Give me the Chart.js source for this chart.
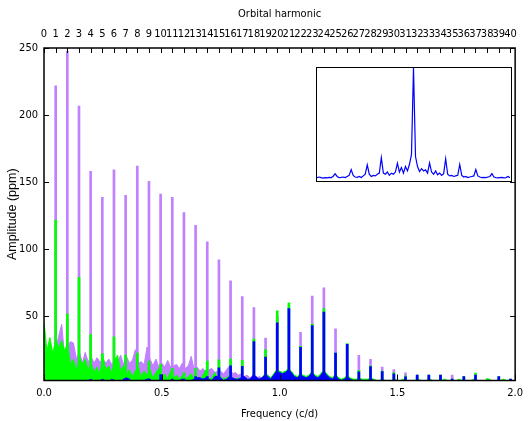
<!DOCTYPE html>
<html>
<head>
<meta charset="utf-8">
<script src="https://cdn.jsdelivr.net/npm/chart.js@4.4.0/dist/chart.umd.min.js"></script>
<style>
    html, body { margin: 0; padding: 0; background: #fff; }
    #wrap { position: relative; width: 529px; height: 421px; }
    #insetBox {
        position: absolute; left: 316px; top: 67px;
        width: 196px; height: 115px;
        border: 1.5px solid #000; box-sizing: border-box; background: #fff;
    }
    #insetChart { position: absolute; left: 0; top: 0; }
</style>
</head>
<body>
<div id="wrap">
    <canvas id="mainChart" width="529" height="421"></canvas>
    <div id="insetBox"><canvas id="insetChart" width="193" height="112"></canvas></div>
</div>
<script>
// tick values of the three axes
const freqTicks = [0, 0.5, 1.0, 1.5, 2.0];
const ampTicks = [50, 100, 150, 200, 250];
const harmonicTicks = [0, 1, 2, 3, 4, 5, 6, 7, 8, 9, 10, 11, 12, 13, 14, 15, 16, 17, 18, 19, 20,
    21, 22, 23, 24, 25, 26, 27, 28, 29, 30, 31, 32, 33, 34, 35, 36, 37, 38, 39, 40];

// orbital harmonics carrying a peak
const harmonics = [1, 2, 3, 4, 5, 6, 7, 8, 9, 10, 11, 12, 13, 14, 15, 16, 17, 18, 19, 20,
    21, 22, 23, 24, 25, 26, 27, 28, 29, 30, 31, 32, 33, 34, 35, 36, 37, 38, 39, 40];

// peak amplitudes (ppm) at each harmonic
const purplePeaks = [221.7, 247.5, 206.7, 158, 138.7, 159.2, 140.2, 162, 150.5, 141,
    138.7, 127.2, 117.7, 105.5, 92, 76.3, 64.5, 56.3, 33.6, 50,
    56, 38, 65, 71.2, 40.5, 28, 20.7, 17.7, 12, 10.2,
    7.8, 5, 4, 4, 6, 3, 4, 2, 3, 2];
const greenPeaks = [121.7, 51.7, 79, 36.2, 22, 34.6, 21, 22.4, 16.5, 14,
    11, 8, 11, 16.5, 17.5, 18, 17, 33, 25, 54,
    60, 27.5, 44, 55.7, 22.5, 29.5, 9.5, 13, 9, 8,
    5.5, 6, 6, 6, 3, 5, 7.5, 3.5, 5, 3];
const bluePeaks = [1, 1, 1, 1, 2, 2, 2, 2, 3, 6.5,
    3, 3, 5, 5, 11.5, 13, 12.5, 31, 19.5, 45,
    55.7, 26.7, 43, 53, 22.4, 29, 8.5, 12.4, 8.6, 7,
    4.8, 6, 6, 6, 3, 5, 6, 2, 5, 3];

// noise floor between the peaks, one value every 0.0125 c/d from 0 to 2
const FREQ_STEP = 0.0125;
const purpleFloor = [28, 14, 22, 12, 26, 35, 44, 20, 28, 31,
    30, 18, 24, 15, 23, 16, 20, 15, 19, 16,
    18, 15, 18, 14, 17, 15, 21, 14, 20, 15,
    17, 25, 15, 16, 14, 27, 18, 13, 18, 12,
    15, 12, 17, 12, 13, 14, 11, 15, 11, 13,
    20, 10, 12, 9, 11, 8, 10, 11, 8, 9,
    9, 7, 10, 13, 7, 8, 6, 7, 5, 6,
    4, 5, 3, 5, 4, 5, 6, 4, 3, 4,
    5, 3, 4, 3, 4, 3, 3, 4, 3, 2,
    3, 3, 4, 2, 3, 4, 3, 2, 3, 3,
    2, 2, 3, 2, 2, 2, 2, 2, 1.5, 2,
    1.5, 2, 1.5, 1, 1, 1.5, 1, 1, 1, 1.5,
    1, 1, 1.5, 1, 1, 1, 1, 1.5, 1, 1,
    1, 1.5, 1, 1, 1, 1, 1.5, 1, 1, 1,
    1, 1.5, 1, 1, 1, 1, 1.5, 1, 1, 1,
    1, 1.5, 1, 1, 1, 1, 1.5, 1, 1, 1, 1];
const greenFloor = [46, 24, 34, 22, 33, 26, 32, 24, 30, 14,
    18, 9, 20, 14, 18, 10, 15, 8, 12, 7,
    20, 10, 13, 8, 17, 21, 9, 13, 6, 10,
    5, 9, 12, 5, 9, 6, 10, 4, 8, 11,
    4, 7, 3, 9, 4, 6, 3, 6, 3, 5,
    7, 3, 5, 3, 6, 10, 3, 4, 8, 3,
    5, 3, 4, 6, 3, 3, 4, 3, 2, 3,
    3, 4, 3, 2, 4, 7, 6, 4, 7, 10,
    9, 8, 9, 11, 9, 6, 5, 7, 6, 5,
    6, 9, 6, 5, 7, 10, 7, 5, 4, 7,
    4, 3, 4, 6, 4, 3, 3, 4, 3, 3,
    3, 4, 3, 2, 2, 3, 2, 2, 2, 3,
    2, 2, 3, 2, 2, 2, 2, 3, 2, 2,
    2, 3, 2, 2, 2, 2, 3, 2, 2, 2,
    2, 3, 2, 2, 2, 2, 3, 2, 2, 2,
    2, 3, 2, 2, 2, 2, 3, 2, 2, 2, 2];
const blueFloor = [2, 1, 1, 0.5, 0.5, 0.5, 0.5, 0.5, 0.5, 0.5,
    0.5, 0.5, 1, 0.5, 0.5, 2, 3, 1, 0.5, 2,
    3, 1, 1, 3, 2, 1, 1, 3, 4, 3,
    1, 1, 2, 1, 2, 3, 3, 1, 1, 2,
    3, 1, 1, 2, 2, 1, 2, 3, 2, 1,
    2, 3, 4, 4, 3, 4, 3, 2, 5, 5,
    4, 2, 3, 5, 4, 3, 3, 4, 5, 3,
    3, 6, 5, 3, 4, 6, 5, 3, 6, 9,
    8, 7, 8, 10, 8, 5, 4, 6, 5, 4,
    5, 8, 5, 4, 6, 9, 6, 4, 3, 6,
    3, 2, 3, 5, 3, 2, 2, 3, 2, 2,
    2, 3, 2, 1.5, 1, 2, 1, 1, 1.5, 2,
    1, 1, 2, 1, 1, 1.5, 1, 2, 1, 1,
    1.5, 2, 1, 1, 1, 1.5, 2, 1, 1, 1,
    1.5, 2, 1, 1, 1, 1, 2, 1, 1, 1,
    1.5, 2, 1, 1, 1, 1, 2, 1, 1, 1, 1];

// inset: spectral window, normalised amplitude
const windowAmp = [0.01, 0.015, 0.01, 0.005, 0.01, 0.008, 0.012, 0.01, 0.02, 0.045,
    0.02, 0.01, 0.012, 0.015, 0.01, 0.02, 0.03, 0.083, 0.03, 0.015,
    0.012, 0.02, 0.01, 0.025, 0.04, 0.125, 0.04, 0.02, 0.03, 0.025,
    0.04, 0.05, 0.19, 0.05, 0.04, 0.06, 0.03, 0.05, 0.04, 0.06,
    0.14, 0.06, 0.1, 0.05, 0.11, 0.07, 0.13, 0.22, 1.0, 0.2,
    0.11, 0.065, 0.09, 0.07, 0.08, 0.05, 0.143, 0.06, 0.04, 0.07,
    0.035, 0.05, 0.03, 0.045, 0.18, 0.04, 0.025, 0.03, 0.02, 0.025,
    0.03, 0.128, 0.03, 0.015, 0.02, 0.01, 0.015, 0.02, 0.025, 0.083,
    0.025, 0.015, 0.01, 0.012, 0.01, 0.015, 0.02, 0.045, 0.015, 0.01,
    0.008, 0.01, 0.012, 0.008, 0.01, 0.02, 0.008];

const PURPLE = '#c080ff';
const GREEN = '#00ff00';
const BLUE = '#0000ff';
const NARROW = '"Liberation Sans Narrow", "DejaVu Sans Condensed", sans-serif';
const REGULAR = '"Liberation Sans", Arial, sans-serif';

// gnuplot style frame with inward ticks on all four sides
const frameTicks = {
    id: 'frameTicks',
    afterDraw(chart) {
        const { ctx, chartArea: a, scales } = chart;
        ctx.save();
        ctx.strokeStyle = '#000';
        ctx.lineWidth = 1;
        ctx.beginPath();
        scales.x.ticks.forEach(t => {
            const px = Math.round(scales.x.getPixelForValue(t.value)) + 0.5;
            ctx.moveTo(px, a.bottom);
            ctx.lineTo(px, a.bottom - 6);
        });
        scales.x2.ticks.forEach(t => {
            const px = Math.round(scales.x2.getPixelForValue(t.value)) + 0.5;
            ctx.moveTo(px, a.top);
            ctx.lineTo(px, a.top + 5);
        });
        scales.y.ticks.forEach(t => {
            const py = Math.round(scales.y.getPixelForValue(t.value)) + 0.5;
            ctx.moveTo(a.left, py);
            ctx.lineTo(a.left + 5, py);
            ctx.moveTo(a.right, py);
            ctx.lineTo(a.right - 5, py);
        });
        ctx.stroke();
        ctx.lineWidth = 1.5;
        ctx.strokeRect(a.left, a.top, a.right - a.left, a.bottom - a.top);
        ctx.restore();
    }
};

const fixedTicks = values => scale => {
    scale.ticks = values.map(v => ({ value: v }));
};

class PeriodogramChart {
    constructor() {
        this.chart = null;
        this.inset = null;
    }

    floorSet(values, color, order) {
        return {
            type: 'line',
            xAxisID: 'x',
            yAxisID: 'y',
            data: values.map((v, i) => ({ x: i * FREQ_STEP, y: v })),
            borderColor: color,
            backgroundColor: color,
            borderWidth: 1,
            pointRadius: 0,
            tension: 0,
            fill: 'start',
            order: order
        };
    }

    peakSet(values, color, order) {
        return {
            type: 'bar',
            xAxisID: 'x2',
            yAxisID: 'y',
            data: harmonics.map((h, k) => ({ x: h, y: values[k] })),
            backgroundColor: color,
            borderWidth: 0,
            barThickness: 2,
            grouped: false,
            order: order
        };
    }

    initMain() {
        const ctx = document.getElementById('mainChart');
        const tickFont = { family: NARROW, size: 11 };
        const noGrid = { display: false, drawTicks: false };

        this.chart = new Chart(ctx, {
            type: 'line',
            data: {
                datasets: [
                    this.floorSet(blueFloor, BLUE, 1),
                    this.peakSet(bluePeaks, BLUE, 1),
                    this.floorSet(greenFloor, GREEN, 2),
                    this.peakSet(greenPeaks, GREEN, 2),
                    this.floorSet(purpleFloor, PURPLE, 3),
                    this.peakSet(purplePeaks, PURPLE, 3)
                ]
            },
            options: {
                responsive: false,
                animation: false,
                events: [],
                layout: { padding: 0 },
                plugins: {
                    legend: { display: false },
                    tooltip: { enabled: false }
                },
                scales: {
                    x: {
                        type: 'linear',
                        position: 'bottom',
                        min: 0,
                        max: 2,
                        offset: false,
                        grid: noGrid,
                        border: { display: false },
                        afterBuildTicks: fixedTicks(freqTicks),
                        ticks: {
                            maxRotation: 0,
                            padding: 6,
                            color: '#000',
                            font: tickFont,
                            callback: v => v.toFixed(1)
                        },
                        title: {
                            display: true,
                            text: 'Frequency (c/d)',
                            color: '#000',
                            font: tickFont,
                            padding: { top: 0, bottom: 0 }
                        },
                        afterFit: s => { s.height = 40.5; }
                    },
                    x2: {
                        type: 'linear',
                        position: 'top',
                        min: 0,
                        max: 40.4,
                        offset: false,
                        grid: noGrid,
                        border: { display: false },
                        afterBuildTicks: fixedTicks(harmonicTicks),
                        ticks: {
                            autoSkip: false,
                            maxRotation: 0,
                            padding: 7,
                            color: '#000',
                            font: tickFont
                        },
                        title: {
                            display: true,
                            text: 'Orbital harmonic',
                            color: '#000',
                            font: tickFont,
                            padding: { top: 8, bottom: 0 }
                        },
                        afterFit: s => { s.height = 48; }
                    },
                    y: {
                        type: 'linear',
                        position: 'left',
                        min: 2,
                        max: 250,
                        grid: noGrid,
                        border: { display: false },
                        afterBuildTicks: fixedTicks(ampTicks),
                        ticks: {
                            padding: 6,
                            color: '#000',
                            font: tickFont
                        },
                        title: {
                            display: true,
                            text: 'Amplitude (ppm)',
                            color: '#000',
                            font: { family: REGULAR, size: 12.5 },
                            padding: { top: 5, bottom: 0 }
                        },
                        afterFit: s => { s.width = 44; }
                    },
                    y2: {
                        type: 'linear',
                        position: 'right',
                        min: 2,
                        max: 250,
                        grid: noGrid,
                        border: { display: false },
                        ticks: { display: false },
                        afterFit: s => { s.width = 8; }
                    }
                }
            },
            plugins: [frameTicks]
        });
    }

    initInset() {
        const ctx = document.getElementById('insetChart');
        this.inset = new Chart(ctx, {
            type: 'line',
            data: {
                datasets: [{
                    data: windowAmp.map((v, i) => ({ x: i, y: v })),
                    borderColor: BLUE,
                    borderWidth: 1.2,
                    pointRadius: 0,
                    tension: 0,
                    fill: false
                }]
            },
            options: {
                responsive: false,
                animation: false,
                events: [],
                layout: { padding: 0 },
                plugins: {
                    legend: { display: false },
                    tooltip: { enabled: false }
                },
                scales: {
                    x: { type: 'linear', min: 0, max: windowAmp.length - 1, display: false },
                    y: { type: 'linear', min: -0.012, max: 1, display: false }
                }
            }
        });
    }

    initialize() {
        this.initMain();
        this.initInset();
    }
}

new PeriodogramChart().initialize();
</script>
</body>
</html>
